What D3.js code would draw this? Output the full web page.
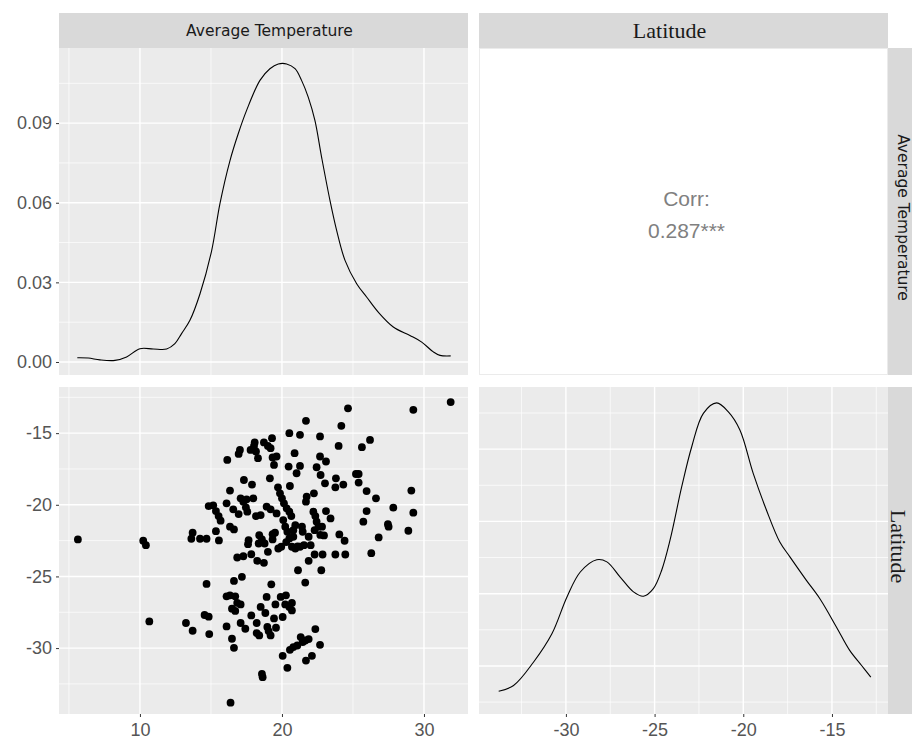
<!DOCTYPE html>
<html>
<head>
<meta charset="utf-8">
<script src="https://cdn.jsdelivr.net/npm/d3@7"></script>
<style>
  body { margin: 0; background: #fff; }
  svg { display: block; }
</style>
</head>
<body>
<script>
// pairs plot: average temperature vs latitude

var varNames = ['Average Temperature', 'Latitude'];
var corrLabel = 'Corr:';
var corrValue = '0.287***';

// scatter points
var tempVals = [5.63, 10.23, 10.42, 10.66, 13.24, 13.71, 13.71, 13.62, 14.23, 14.69,
  14.69, 14.55, 14.84, 14.88, 14.84, 15.16, 15.35, 15.54, 15.68, 15.35,
  15.56, 16.10, 16.34, 16.15, 16.34, 16.62, 16.57, 16.95, 17.09, 17.04,
  16.95, 17.32, 17.28, 17.46, 17.56, 17.51, 17.98, 17.89, 17.79, 18.03,
  18.08, 18.17, 18.31, 18.73, 19.01, 19.30, 19.20, 19.34, 19.62, 19.44,
  19.15, 19.72, 19.86, 20.00, 20.14, 20.33, 20.52, 20.66, 20.47, 20.52,
  20.56, 20.89, 21.03, 21.27, 21.27, 21.69, 22.68, 22.68, 22.44, 22.72,
  23.10, 23.03, 23.99, 24.18, 24.65, 23.80, 23.76, 24.32, 25.21, 25.40,
  25.40, 25.63, 26.20, 25.96, 26.62, 25.96, 25.73, 26.81, 26.29, 27.46,
  27.51, 27.84, 28.90, 29.11, 29.25, 29.25, 31.88, 23.42, 23.10, 22.82,
  22.96, 23.76, 24.46, 24.04, 24.41, 22.86, 22.77, 22.30, 21.88, 21.64,
  21.13, 22.25, 21.74, 21.69, 22.21, 22.35, 22.44, 22.58, 22.30, 21.88,
  22.02, 21.55, 21.27, 20.94, 20.70, 20.80, 20.52, 20.80, 20.94, 21.41,
  21.46, 20.09, 20.23, 20.38, 19.95, 19.74, 19.51, 19.34, 19.34, 19.62,
  19.20, 18.92, 18.50, 18.17, 18.40, 18.59, 18.78, 19.01, 18.36, 17.65,
  17.61, 16.85, 17.28, 17.84, 18.26, 18.73, 16.62, 17.18, 16.10, 16.34,
  16.71, 16.85, 17.09, 16.48, 16.71, 16.10, 17.09, 17.42, 17.84, 18.22,
  18.22, 18.40, 16.48, 16.62, 16.38, 18.59, 18.64, 18.92, 19.25, 18.50,
  18.83, 18.97, 19.06, 19.20, 19.44, 19.58, 19.54, 19.91, 20.28, 20.05,
  20.23, 20.52, 20.70, 20.70, 20.05, 20.38, 20.56, 20.80, 21.08, 21.32,
  21.46, 21.64, 21.88, 21.69, 22.11, 22.35, 22.68, 21.10, 20.30, 22.70];

var latVals = [-22.42, -22.51, -22.82, -28.14, -28.25, -28.79, -21.95, -22.37, -22.37, -22.37,
  -25.52, -27.69, -27.81, -29.02, -20.09, -20.04, -20.44, -20.79, -21.11, -21.84,
  -22.49, -19.90, -19.01, -16.87, -21.53, -21.72, -20.32, -20.65, -19.55, -16.17,
  -16.45, -18.27, -19.78, -20.18, -20.48, -19.62, -19.55, -18.59, -16.17, -15.89,
  -15.65, -16.28, -16.75, -15.65, -15.89, -15.35, -16.05, -16.70, -16.63, -17.22,
  -18.15, -18.78, -19.20, -19.55, -19.90, -20.25, -20.48, -20.79, -17.33, -15.00,
  -18.69, -16.40, -17.80, -17.29, -15.12, -14.14, -15.23, -16.63, -17.38, -17.92,
  -16.98, -18.50, -15.89, -14.49, -13.27, -18.15, -18.78, -18.59, -17.85, -17.85,
  -18.45, -15.98, -15.47, -19.04, -19.55, -20.44, -21.18, -22.28, -23.38, -21.35,
  -21.53, -20.20, -21.81, -19.01, -20.55, -13.37, -12.83, -20.95, -20.44, -21.53,
  -22.14, -23.47, -23.47, -22.07, -22.51, -23.47, -24.57, -23.47, -23.91, -25.43,
  -24.57, -19.20, -19.43, -19.78, -20.48, -20.79, -21.18, -21.53, -21.77, -22.23,
  -22.82, -22.82, -22.93, -23.05, -22.93, -22.23, -22.35, -21.77, -21.42, -21.53,
  -21.88, -21.07, -21.53, -21.88, -22.93, -23.05, -21.95, -22.05, -22.42, -20.60,
  -20.32, -20.13, -20.72, -20.79, -22.12, -22.42, -22.70, -23.28, -22.70, -22.47,
  -22.75, -23.68, -23.59, -23.45, -23.91, -24.05, -25.31, -25.03, -26.39, -26.32,
  -26.39, -26.85, -26.95, -27.25, -27.41, -28.49, -28.25, -28.65, -27.72, -28.25,
  -28.95, -29.12, -29.35, -29.98, -33.81, -31.80, -32.03, -26.43, -25.55, -27.13,
  -27.55, -28.53, -28.81, -29.12, -27.93, -28.58, -26.95, -26.43, -26.32, -27.83,
  -26.95, -27.13, -26.85, -27.37, -30.54, -31.38, -30.12, -29.93, -29.82, -29.23,
  -29.58, -29.47, -29.37, -30.87, -30.54, -28.67, -29.77, -22.90, -22.60, -22.10];

// density curves on the diagonal
var tempDensX = [5.59, 6.36, 7.18, 8.24, 9.06, 10.0, 10.94, 11.88, 12.46, 12.93,
  13.52, 14.23, 15.05, 15.63, 16.34, 16.92, 17.51, 18.45, 19.15, 19.74,
  20.33, 20.92, 21.38, 21.85, 22.32, 22.79, 23.38, 23.85, 24.44, 25.26,
  25.96, 26.78, 27.84, 29.01, 29.84, 30.66, 31.13, 31.88];
var tempDensY = [0.0016, 0.0015, 0.0008, 0.0006, 0.0019, 0.0050, 0.0049, 0.0049, 0.0069, 0.0107,
  0.0157, 0.0257, 0.0420, 0.0596, 0.0759, 0.0860, 0.0948, 0.1061, 0.1105, 0.1123,
  0.1123, 0.1105, 0.1061, 0.0998, 0.0910, 0.0772, 0.0609, 0.0496, 0.0383, 0.0295,
  0.0245, 0.0188, 0.0132, 0.0100, 0.0075, 0.0038, 0.0025, 0.0023];

var latDensX = [-33.79, -32.95, -31.82, -30.79, -29.94, -29.19, -28.26, -27.69, -26.94, -26.19,
  -25.63, -25.07, -24.60, -24.13, -23.47, -22.91, -22.25, -21.50, -20.84, -20.19,
  -19.44, -18.69, -17.94, -17.37, -16.44, -15.68, -14.75, -14.00, -13.34, -12.81];
var latDensY = [0.0130, 0.0146, 0.0211, 0.0289, 0.0391, 0.0460, 0.0494, 0.0488, 0.0446, 0.0405,
  0.0393, 0.0414, 0.0465, 0.0548, 0.0696, 0.0806, 0.0899, 0.0928, 0.0903, 0.0853,
  0.0733, 0.0631, 0.0543, 0.0502, 0.0437, 0.0386, 0.0308, 0.0243, 0.0202, 0.0169];

// tick values
var tempTicks = [10, 20, 30], tempMinor = [5, 15, 25];
var latTicks = [-30, -25, -20, -15], latMinor = [-32.5, -27.5, -22.5, -17.5, -12.5];
var densTicks = [0, 0.03, 0.06, 0.09], densMinor = [0.015, 0.045, 0.075, 0.105];
var latDensTicks = [0.02, 0.04, 0.06, 0.08], latDensMinor = [0.01, 0.03, 0.05, 0.07, 0.09];

var W = 912, H = 742;
var colX = [59, 479], rowY = [48, 387];
var pw = 409, ph = 327;
var stripH = 35;

var svg = d3.select('body').append('svg')
    .attr('width', W)
    .attr('height', H);

var xTemp = d3.scaleLinear().domain([4.3, 33.1]).range([0, pw]);
var xLat = d3.scaleLinear().domain([-34.9, -11.84]).range([0, pw]);
var yDens = d3.scaleLinear().domain([-0.0049, 0.1183]).range([ph, 0]);
var yLat = d3.scaleLinear().domain([-34.6, -11.78]).range([ph, 0]);
var yLatDens = d3.scaleLinear().domain([0.0067, 0.0972]).range([ph, 0]);

// plain hyphen for negatives, like the original
var plainFmt = function (d) { return String(d); };

function panel(col, row) {
  return svg.append('g')
    .attr('transform', 'translate(' + colX[col] + ',' + rowY[row] + ')');
}

function grid(g, xs, ys) {
  g.append('rect')
    .attr('width', pw)
    .attr('height', ph)
    .attr('fill', '#EBEBEB');
  var lines = [
    {v: xs[1], sc: xs[0], vert: true, w: 0.7},
    {v: ys[1], sc: ys[0], vert: false, w: 0.7},
    {v: xs[2], sc: xs[0], vert: true, w: 1.4},
    {v: ys[2], sc: ys[0], vert: false, w: 1.4}
  ];
  lines.forEach(function (l) {
    g.selectAll(null)
      .data(l.v)
      .enter()
      .append('line')
      .attr('x1', function (d) { return l.vert ? l.sc(d) : 0; })
      .attr('x2', function (d) { return l.vert ? l.sc(d) : pw; })
      .attr('y1', function (d) { return l.vert ? 0 : l.sc(d); })
      .attr('y2', function (d) { return l.vert ? ph : l.sc(d); })
      .attr('stroke', '#fff')
      .attr('stroke-width', l.w);
  });
}

function styleAxis(a) {
  a.select('.domain').remove();
  a.selectAll('.tick line').attr('stroke', '#333').attr('stroke-width', 1);
  a.selectAll('.tick text')
    .attr('fill', '#555')
    .attr('font-family', 'Liberation Sans, Arial, sans-serif')
    .attr('font-size', '18px');
}

// top-left: temperature density
var p11 = panel(0, 0);
grid(p11, [xTemp, tempMinor, tempTicks], [yDens, densMinor, densTicks]);
p11.append('path')
  .datum(d3.range(tempDensX.length))
  .attr('d', d3.line()
    .x(function (i) { return xTemp(tempDensX[i]); })
    .y(function (i) { return yDens(tempDensY[i]); })
    .curve(d3.curveCatmullRom))
  .attr('fill', 'none')
  .attr('stroke', '#000')
  .attr('stroke-width', 1.1);
p11.append('g')
  .call(d3.axisLeft(yDens).tickValues(densTicks).tickSize(3).tickPadding(4).tickFormat(d3.format('.2f')))
  .call(styleAxis);

// top-right: correlation
var p12 = panel(1, 0);
p12.append('rect')
  .attr('x', 0.5).attr('y', 0.5)
  .attr('width', pw - 1)
  .attr('height', ph - 1)
  .attr('fill', '#fff')
  .attr('stroke', '#EBEBEB');
p12.selectAll('text.corr')
  .data([corrLabel, corrValue])
  .enter()
  .append('text')
  .attr('class', 'corr')
  .attr('x', pw / 2 + 3)
  .attr('y', function (d, i) { return ph / 2 - 6 + i * 32; })
  .attr('text-anchor', 'middle')
  .attr('fill', '#808080')
  .attr('font-family', 'Liberation Sans, Arial, sans-serif')
  .attr('font-size', '21px')
  .text(function (d) { return d; });

// bottom-left: scatter
var p21 = panel(0, 1);
grid(p21, [xTemp, tempMinor, tempTicks], [yLat, latMinor, latTicks]);
p21.selectAll('circle')
  .data(d3.range(tempVals.length))
  .enter()
  .append('circle')
  .attr('cx', function (i) { return xTemp(tempVals[i]); })
  .attr('cy', function (i) { return yLat(latVals[i]); })
  .attr('r', 3.9)
  .attr('fill', '#000');
p21.append('g')
  .call(d3.axisLeft(yLat).tickValues(latTicks).tickSize(3).tickPadding(4).tickFormat(plainFmt))
  .call(styleAxis);
p21.append('g')
  .attr('transform', 'translate(0,' + ph + ')')
  .call(d3.axisBottom(xTemp).tickValues(tempTicks).tickSize(3).tickPadding(6).tickFormat(plainFmt))
  .call(styleAxis);

// bottom-right: latitude density
var p22 = panel(1, 1);
grid(p22, [xLat, latMinor, latTicks], [yLatDens, latDensMinor, latDensTicks]);
p22.append('path')
  .datum(d3.range(latDensX.length))
  .attr('d', d3.line()
    .x(function (i) { return xLat(latDensX[i]); })
    .y(function (i) { return yLatDens(latDensY[i]); })
    .curve(d3.curveCatmullRom))
  .attr('fill', 'none')
  .attr('stroke', '#000')
  .attr('stroke-width', 1.1);
p22.append('g')
  .attr('transform', 'translate(0,' + ph + ')')
  .call(d3.axisBottom(xLat).tickValues(latTicks).tickSize(3).tickPadding(6).tickFormat(plainFmt))
  .call(styleAxis);

// strips
var stripFont = ['DejaVu Sans, sans-serif', 'Liberation Serif, Times New Roman, serif'];
var stripSize = ['15.5px', '22px'];
var topShift = [6, -14];
var sideShift = [15, 11];

varNames.forEach(function (name, i) {
  svg.append('rect')
    .attr('x', colX[i])
    .attr('y', rowY[0] - stripH)
    .attr('width', pw)
    .attr('height', stripH)
    .attr('fill', '#D9D9D9');
  svg.append('text')
    .attr('x', colX[i] + pw / 2 + topShift[i])
    .attr('y', rowY[0] - stripH / 2)
    .attr('dy', '0.35em')
    .attr('text-anchor', 'middle')
    .attr('fill', '#1A1A1A')
    .attr('font-family', stripFont[i])
    .attr('font-size', stripSize[i])
    .text(name);

  var sx = colX[1] + pw;
  svg.append('rect')
    .attr('x', sx)
    .attr('y', rowY[i])
    .attr('width', stripH)
    .attr('height', ph)
    .attr('fill', '#D9D9D9');
  svg.append('text')
    .attr('transform', 'translate(' + (sx + sideShift[i]) + ',' + (rowY[i] + ph / 2 + (i === 0 ? 6 : -4)) + ') rotate(90)')
    .attr('dy', '0.35em')
    .attr('text-anchor', 'middle')
    .attr('fill', '#1A1A1A')
    .attr('font-family', stripFont[i])
    .attr('font-size', stripSize[i])
    .text(name);
});
</script>
</body>
</html>
